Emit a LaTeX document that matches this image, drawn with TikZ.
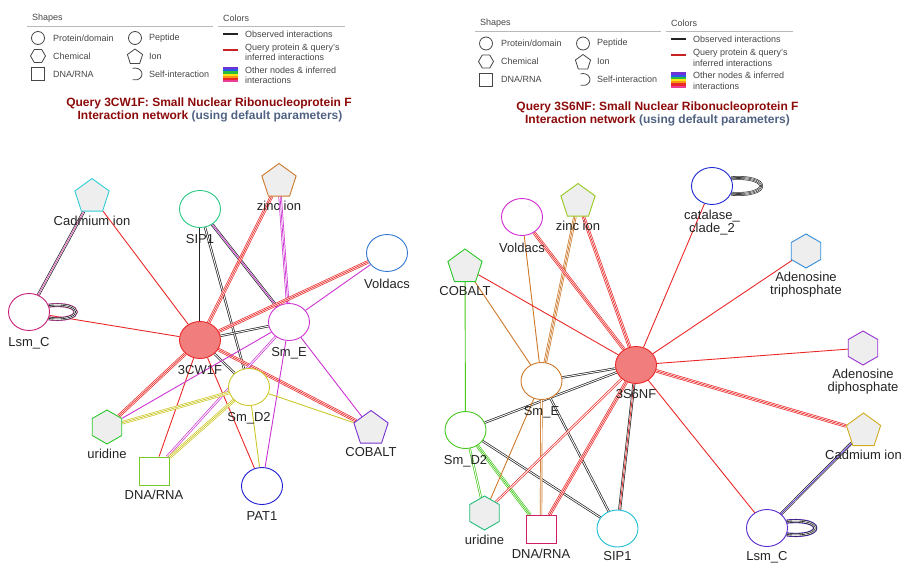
\documentclass[tikz,border=0pt]{standalone}
\usepackage{fontspec}
\setmainfont{Liberation Sans}
\usetikzlibrary{shapes.geometric,backgrounds,positioning}
\definecolor{qred}{RGB}{235,40,40}
\definecolor{qfill}{RGB}{242,125,125}
\definecolor{ink}{RGB}{35,35,35}
\definecolor{ionfill}{RGB}{238,238,238}
\definecolor{rulegray}{RGB}{185,185,185}
\definecolor{keygray}{RGB}{70,70,70}
\definecolor{ttlred}{RGB}{140,10,10}
\definecolor{ttlblue}{RGB}{80,98,130}
\definecolor{cdLc}{RGB}{50,205,215}
\definecolor{sipLc}{RGB}{40,200,130}
\definecolor{znLc}{RGB}{205,120,40}
\definecolor{vdLc}{RGB}{50,120,210}
\definecolor{lsLc}{RGB}{200,30,120}
\definecolor{smeLc}{RGB}{205,50,210}
\definecolor{smdLc}{RGB}{205,200,40}
\definecolor{urLc}{RGB}{40,200,40}
\definecolor{dnLc}{RGB}{120,200,40}
\definecolor{paLc}{RGB}{30,30,210}
\definecolor{coLc}{RGB}{120,50,210}
\definecolor{pinkL}{RGB}{230,90,190}
\definecolor{catRc}{RGB}{30,40,210}
\definecolor{znRc}{RGB}{150,200,30}
\definecolor{vdRc}{RGB}{210,40,210}
\definecolor{coRc}{RGB}{40,200,40}
\definecolor{atRc}{RGB}{50,140,220}
\definecolor{adRc}{RGB}{150,50,210}
\definecolor{cdRc}{RGB}{210,170,30}
\definecolor{lsRc}{RGB}{90,40,210}
\definecolor{sipRc}{RGB}{30,190,210}
\definecolor{dnRc}{RGB}{210,30,100}
\definecolor{urRc}{RGB}{30,190,120}
\definecolor{smdRc}{RGB}{70,200,30}
\definecolor{smeRc}{RGB}{205,120,40}
\definecolor{rb1}{RGB}{110,50,210}
\definecolor{rb2}{RGB}{40,90,240}
\definecolor{rb3}{RGB}{40,190,60}
\definecolor{rb4}{RGB}{250,230,20}
\definecolor{rb5}{RGB}{250,150,20}
\definecolor{rb6}{RGB}{235,40,40}
\definecolor{rb7}{RGB}{235,60,150}
\def\keypanel#1#2#3{%
\begin{scope}[shift={(#1,#2)}, name prefix=#3]
  \node[keyhead] (shapes) at (32,18) {Shapes};
  \node[keyhead] (colors) at (223,18) {Colors};
  \draw[rulegray, line width=0.8pt] (27,26) -- (213,26);
  \draw[rulegray, line width=0.8pt] (218,26) -- (345,26);
  \draw[keyline] (38,38) circle[radius=6.5];
  \node[keyline, regular polygon, regular polygon sides=6, minimum size=15pt, inner sep=0pt] (chem) at (38,56) {};
  \draw[keyline] (31.5,67.5) rectangle (44.5,80.5);
  \draw[keyline] (135,38) circle[radius=6.5];
  \node[keyline, regular polygon, regular polygon sides=5, minimum size=16pt, inner sep=0pt] (ion) at (135,57) {};
  \draw[keyline] (132.6,68.4) arc[start angle=-110, end angle=110, x radius=7, y radius=6];
  \node[keytxt] (prot) at (53,38) {Protein/domain};
  \node[keytxt] (chemtxt) at (53,56) {Chemical};
  \node[keytxt] (nuc) at (53,74) {DNA/RNA};
  \node[keytxt] (pep) at (149,38) {Peptide};
  \node[keytxt] (iontxt) at (149,56) {Ion};
  \node[keytxt] (self) at (149,74) {Self-interaction};
  \draw[ink, line width=2pt] (223,34) -- (238,34);
  \draw[qred!85!black, line width=2pt] (223,50) -- (238,50);
  \foreach \c [count=\i] in {rb1,rb2,rb3,rb4,rb5,rb6,rb7}
    \fill[\c] (223,64.8+2.2*\i) rectangle (238,67.1+2.2*\i);
  \node[keytxt] (obs) at (245,34) {Observed interactions};
  \node[keytxt] (qry) at (245,52.5) {Query protein \& query's\\inferred interactions};
  \node[keytxt] (oth) at (245,75.5) {Other nodes \& inferred\\interactions};
\end{scope}}

\begin{document}
\begin{tikzpicture}[x=1pt, y=-1pt,
  prot/.style={ellipse, draw=#1, fill=white, line width=0.9pt, minimum width=41pt, minimum height=37pt, inner sep=0pt},
  query/.style={prot=qred, fill=qfill},
  ion/.style={regular polygon, regular polygon sides=5, draw=#1, fill=ionfill, line width=0.9pt, minimum size=36pt, inner sep=0pt},
  chem/.style={regular polygon, regular polygon sides=6, shape border rotate=30, draw=#1, fill=ionfill, line width=0.9pt, minimum size=34pt, inner sep=0pt},
  nuc/.style={rectangle, draw=#1, fill=white, line width=0.9pt, minimum width=30pt, minimum height=28pt, inner sep=0pt},
  lbl/.style={font=\fontsize{13}{13}\selectfont, text=ink, inner sep=0pt, align=center},
  e1/.style={draw=#1, line width=0.9pt},
  e2/.style={draw=#1, line width=2.3pt, postaction={draw=white, line width=0.9pt}},
  e3/.style={draw=#1, line width=3.4pt, postaction={draw=white, line width=2pt}, postaction={draw=#1, line width=0.7pt}},
  ex/.style 2 args={draw=#1, line width=3pt, postaction={draw=white, line width=1.6pt}, postaction={draw=#2, line width=0.7pt}},
  lp/.style 2 args={draw=#2, line width=4.2pt, postaction={draw=#1, line width=3.2pt}, postaction={draw=white, line width=1.9pt}, postaction={draw=#1, line width=0.6pt}},
  lp4/.style={draw=ink, line width=3.8pt, postaction={draw=white, line width=2.6pt}, postaction={draw=ink, line width=1.6pt}, postaction={draw=white, line width=0.45pt}},
  keyhead/.style={font=\fontsize{9}{10}\selectfont, text=keygray, anchor=west, inner sep=0pt},
  keytxt/.style={font=\fontsize{9}{10.5}\selectfont, text=keygray, anchor=west, inner sep=0pt, align=left},
  keyline/.style={draw=keygray, line width=0.8pt},
  ttl/.style={font=\bfseries\fontsize{12}{14}\selectfont, text=ttlred, inner sep=0pt}]

\useasboundingbox (0,0) rectangle (904,564);

\keypanel{0}{0}{L-}
\keypanel{448}{5.5}{R-}

\node[ttl] (ttlLa) at (209,103) {Query 3CW1F: Small Nuclear Ribonucleoprotein F};
\node[ttl] (ttlLb) at (210,116.5) {Interaction network \textcolor{ttlblue}{(using default parameters)}};
\node[ttl] (ttlRa) at (657.5,107) {Query 3S6NF: Small Nuclear Ribonucleoprotein F};
\node[ttl] (ttlRb) at (657.5,120) {Interaction network \textcolor{ttlblue}{(using default parameters)}};

% left network
\node[ion=cdLc] (cdL) at (92,196.5) {};
\node[lbl, below=4pt of cdL] (cdLt) {Cadmium ion};
\node[prot=sipLc] (sipL) at (200,209) {};
\node[lbl, below=6.5pt of sipL] (sipLt) {SIP1};
\node[ion=znLc] (znL) at (279,181.5) {};
\node[lbl, below=4pt of znL] (znLt) {zinc ion};
\node[prot=vdLc] (vdL) at (387,253) {};
\node[lbl, below=6.5pt of vdL] (vdLt) {Voldacs};
\node[prot=lsLc] (lsL) at (29,312) {};
\node[lbl, below=6.5pt of lsL] (lsLt) {Lsm\_C};
\node[query] (q1) at (200,340) {};
\node[lbl, below=6.5pt of q1] (q1t) {3CW1F};
\node[prot=smeLc] (smeL) at (289,322) {};
\node[lbl, below=6.5pt of smeL] (smeLt) {Sm\_E};
\node[prot=smdLc] (smdL) at (249,387) {};
\node[lbl, below=6.5pt of smdL] (smdLt) {Sm\_D2};
\node[chem=urLc] (urL) at (107,427) {};
\node[lbl, below=4.5pt of urL] (urLt) {uridine};
\node[nuc=dnLc] (dnL) at (154,471) {};
\node[lbl, below=4.5pt of dnL] (dnLt) {DNA/RNA};
\node[prot=paLc] (paL) at (262,486) {};
\node[lbl, below=6.5pt of paL] (paLt) {PAT1};
\node[ion=coLc] (coL) at (371,428.5) {};
\node[lbl, below=4pt of coL] (coLt) {COBALT};

% right network
\node[query] (q2) at (636,365) {};
\node[lbl, below=5pt of q2] (q2t) {3S6NF};
\node[prot=catRc] (catR) at (712,186) {};
\node[lbl, below=4.5pt of catR] (catRt) {catalase\_\\clade\_2};
\node[ion=znRc] (znR) at (578,201.5) {};
\node[lbl, below=4pt of znR] (znRt) {zinc ion};
\node[prot=vdRc] (vdR) at (522,217) {};
\node[lbl, below=6.5pt of vdR] (vdRt) {Voldacs};
\node[ion=coRc] (coR) at (465,267) {};
\node[lbl, below=4pt of coR] (coRt) {COBALT};
\node[chem=atRc] (atR) at (806,251) {};
\node[lbl, below=3.5pt of atR] (atRt) {Adenosine\\triphosphate};
\node[chem=adRc] (adR) at (863,348) {};
\node[lbl, below=3.5pt of adR] (adRt) {Adenosine\\diphosphate};
\node[ion=cdRc] (cdR) at (863.5,431) {};
\node[lbl, below=4pt of cdR] (cdRt) {Cadmium ion};
\node[prot=lsRc] (lsR) at (767,528) {};
\node[lbl, below=4pt of lsR] (lsRt) {Lsm\_C};
\node[prot=sipRc] (sipR) at (617.5,528.5) {};
\node[lbl, below=4pt of sipR] (sipRt) {SIP1};
\node[nuc=dnRc] (dnR) at (541,529.5) {};
\node[lbl, below=4.5pt of dnR] (dnRt) {DNA/RNA};
\node[chem=urRc] (urR) at (484.5,513) {};
\node[lbl, below=4.5pt of urR] (urRt) {uridine};
\node[prot=smdRc] (smdR) at (465.5,430) {};
\node[lbl, below=6pt of smdR] (smdRt) {Sm\_D2};
\node[prot=smeRc] (smeR) at (541.5,381) {};
\node[lbl, below=6pt of smeR] (smeRt) {Sm\_E};

\begin{scope}[on background layer]
\draw[ex={ink}{pinkL}] (cdL) -- (lsL);
\draw[e1=qred] (cdL) -- (q1);
\draw[e1=qred] (lsL) -- (q1);
\draw[lp={ink}{pinkL}] (lsL.18) .. controls +(36,-4) and +(36,4) .. (lsL.-18);
\draw[e2=ink] (sipL) -- (q1);
\draw[e2=ink] (sipL) -- (smdL);
\draw[ex={ink}{smeLc}] (sipL) -- (smeL);
\draw[e3=qred] (znL) -- (q1);
\draw[e3=smeLc] (znL) -- (smeL);
\draw[e3=qred] (vdL) -- (q1);
\draw[e1=smeLc] (vdL) -- (smeL);
\draw[e2=ink] (q1) -- (smeL);
\draw[e2=ink] (q1) -- (smdL);
\draw[e3=qred] (q1) -- (coL);
\draw[e3=qred] (q1) -- (urL);
\draw[e1=qred] (q1) -- (dnL);
\draw[e1=qred] (q1) -- (paL);
\draw[e1=smeLc] (smeL) -- (urL);
\draw[e2=smeLc] (smeL) -- (dnL);
\draw[e1=smeLc] (smeL) -- (paL);
\draw[e1=smeLc] (smeL) -- (coL);
\draw[e3=smdLc] (smdL) -- (urL);
\draw[e3=smdLc] (smdL) -- (dnL);
\draw[e1=smdLc] (smdL) -- (paL);
\draw[e1=smdLc] (smdL) -- (coL);

\draw[e1=qred] (catR) -- (q2);
\draw[lp4] (catR.22) .. controls +(40,-3) and +(40,3) .. (catR.-22);
\draw[e1=qred] (atR) -- (q2);
\draw[e1=qred] (adR) -- (q2);
\draw[e3=qred] (cdR) -- (q2);
\draw[ex={ink}{lsRc}] (cdR) -- (lsR);
\draw[e1=qred] (lsR) -- (q2);
\draw[lp={ink}{lsRc}] (lsR.18) .. controls +(38,-4) and +(38,4) .. (lsR.-18);
\draw[ex={ink}{qred}] (sipR) -- (q2);
\draw[e3=qred] (znR) -- (q2);
\draw[e3=smeRc] (znR) -- (smeR);
\draw[e3=qred] (vdR) -- (q2);
\draw[e1=smeRc] (vdR) -- (smeR);
\draw[e1=qred] (coR) -- (q2);
\draw[e1=smeRc] (coR) -- (smeR);
\draw[e1=smdRc] (coR) -- (smdR);
\draw[e2=ink] (smeR) -- (q2);
\draw[e2=ink] (smdR) -- (q2);
\draw[e2=ink] (smeR) -- (sipR);
\draw[e2=ink] (smdR) -- (sipR);
\draw[e2=smdRc] (smdR) -- (urR);
\draw[e3=smdRc] (smdR) -- (dnR);
\draw[e2=smeRc] (smeR) -- (dnR);
\draw[e1=smeRc] (smeR) -- (urR);
\draw[e2=qred] (q2) -- (urR);
\draw[e3=qred] (q2) -- (dnR);
\end{scope}

\end{tikzpicture}
\end{document}
